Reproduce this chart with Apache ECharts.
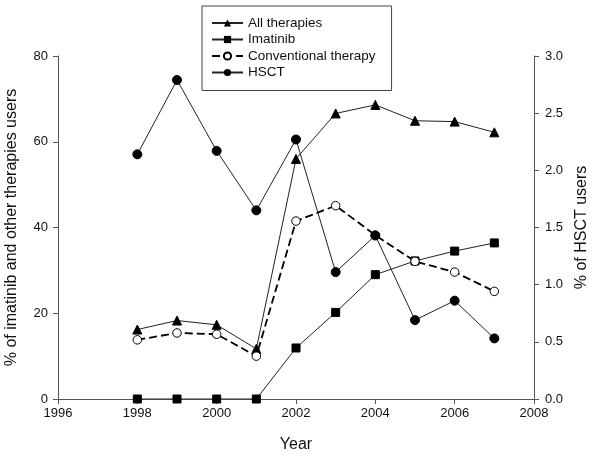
<!DOCTYPE html>
<html>
<head>
<meta charset="utf-8">
<script src="https://cdn.jsdelivr.net/npm/echarts@6/dist/echarts.min.js"></script>
<style>html,body{margin:0;padding:0;background:#fff}#c{width:600px;height:456px}</style>
</head>
<body>
<div id="c"></div>
<script>
var years = [1998, 1999, 2000, 2001, 2002, 2003, 2004, 2005, 2006, 2007];
var allTherapies = [16.2, 18.3, 17.3, 11.7, 56.0, 66.6, 68.6, 64.9, 64.7, 62.2];
var imatinib = [0, 0, 0, 0, 11.9, 20.2, 29.0, 32.2, 34.5, 36.4];
var conventional = [13.8, 15.4, 15.1, 10.0, 41.5, 45.1, 38.2, 32.1, 29.6, 25.1];
var hsct = [2.14, 2.79, 2.17, 1.65, 2.27, 1.11, 1.43, 0.69, 0.86, 0.53];
var seriesNames = ['All therapies', 'Imatinib', 'Conventional therapy', 'HSCT'];
var xTitle = 'Year';
var yLeftTitle = '% of imatinib and other therapies users';
var yRightTitle = '% of HSCT users';

function pairs(vals) { return years.map(function (y, i) { return [y, vals[i]]; }); }

var FONT = 'Liberation Sans, Arial, sans-serif';
var axisCol = '#555';
var chart = echarts.init(document.getElementById('c'), null, { renderer: 'canvas' });
chart.setOption({
  animation: false,
  backgroundColor: '#fff',
  textStyle: { fontFamily: FONT },
  grid: { left: 58, right: 66, top: 56, bottom: 57, containLabel: false, outerBoundsMode: 'none' },
  legend: {
    orient: 'vertical',
    left: 202, top: 6,
    padding: [10, 16, 11, 9],
    itemWidth: 31, itemHeight: 9, itemGap: 2.5,
    borderColor: '#444', borderWidth: 1,
    textStyle: { fontFamily: FONT, fontSize: 13.5, color: '#111', lineHeight: 14 },
    data: seriesNames
  },
  xAxis: {
    type: 'value', min: 1996, max: 2008, interval: 2,
    name: xTitle, nameLocation: 'middle', nameGap: 38,
    nameTextStyle: { fontSize: 16, color: '#111', fontFamily: FONT },
    axisLine: { show: true, lineStyle: { color: axisCol, width: 1 } },
    axisTick: { show: true, inside: false, length: 5, lineStyle: { color: axisCol } },
    axisLabel: { fontSize: 13, color: '#111', margin: 8, formatter: function (v) { return String(v); } },
    splitLine: { show: false }
  },
  yAxis: [{
    type: 'value', min: 0, max: 80, interval: 20, position: 'left',
    name: yLeftTitle, nameLocation: 'middle', nameGap: 38.5, nameRotate: 90,
    nameTextStyle: { fontSize: 16, color: '#111', fontFamily: FONT },
    axisLine: { show: true, lineStyle: { color: axisCol, width: 1 } },
    axisTick: { show: true, inside: false, length: 5, lineStyle: { color: axisCol } },
    axisLabel: { fontSize: 13, color: '#111', margin: 10 },
    splitLine: { show: false }
  }, {
    type: 'value', min: 0, max: 3, interval: 0.5, position: 'right',
    name: yRightTitle, nameLocation: 'middle', nameGap: 36, nameRotate: 90,
    nameTextStyle: { fontSize: 16, color: '#111', fontFamily: FONT },
    axisLine: { show: true, lineStyle: { color: axisCol, width: 1 } },
    axisTick: { show: true, inside: false, length: 5, lineStyle: { color: axisCol } },
    axisLabel: { fontSize: 13, color: '#111', margin: 11, formatter: function (v) { return v.toFixed(1); } },
    splitLine: { show: false }
  }],
  series: [{
    name: seriesNames[0], type: 'line', data: pairs(allTherapies),
    symbol: 'triangle', symbolSize: 9,
    lineStyle: { color: '#222', width: 1 },
    itemStyle: { color: '#000', borderColor: '#000' }, z: 4
  }, {
    name: seriesNames[1], type: 'line', data: pairs(imatinib),
    symbol: 'rect', symbolSize: 8,
    lineStyle: { color: '#222', width: 1 },
    itemStyle: { color: '#000', borderColor: '#000' }, z: 3
  }, {
    name: seriesNames[2], type: 'line', data: pairs(conventional),
    symbol: 'circle', symbolSize: 8.5,
    lineStyle: { color: '#000', width: 1.8, type: [8, 4] },
    itemStyle: { color: '#fff', borderColor: '#000', borderWidth: 1 }, z: 5
  }, {
    name: seriesNames[3], type: 'line', yAxisIndex: 1, data: pairs(hsct),
    symbol: 'circle', symbolSize: 9,
    lineStyle: { color: '#222', width: 1 },
    itemStyle: { color: '#000', borderColor: '#000' }, z: 6
  }]
});
</script>
</body>
</html>
